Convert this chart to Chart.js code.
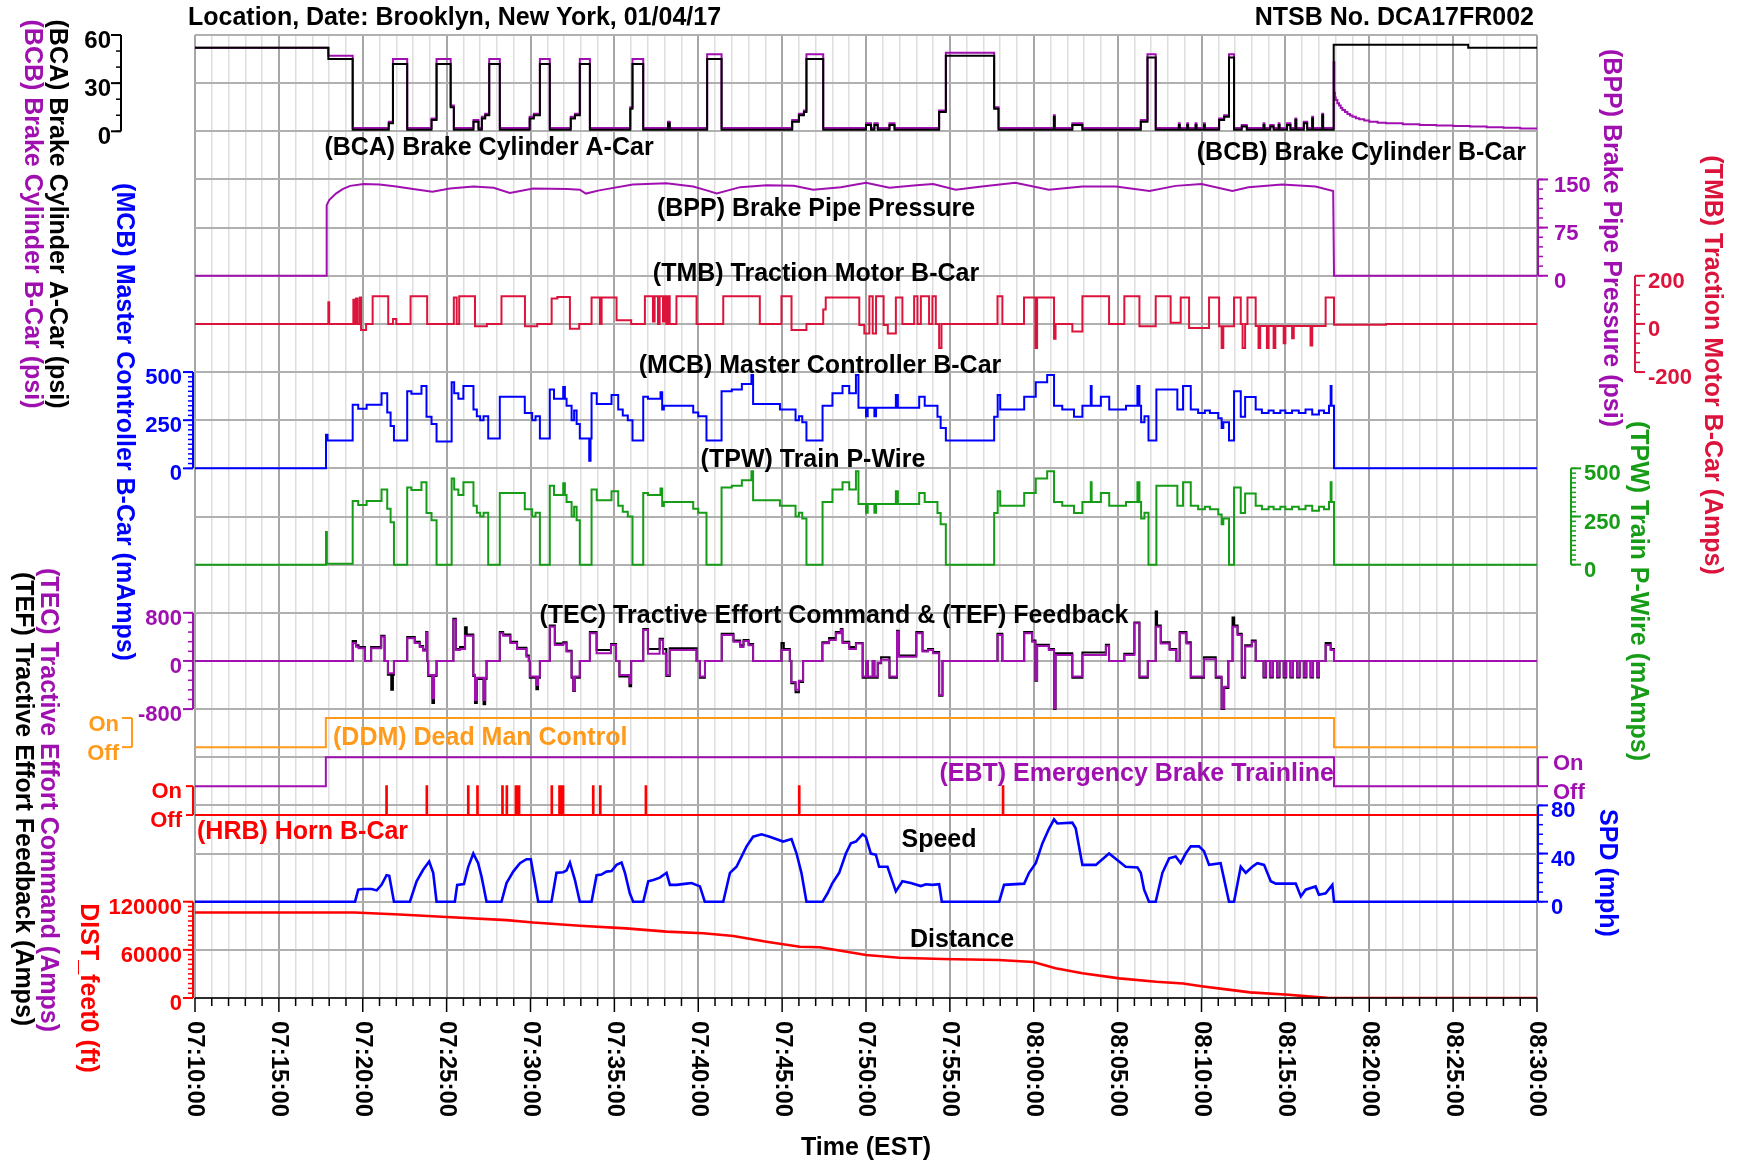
<!DOCTYPE html>
<html>
<head>
<meta charset="utf-8">
<title>NTSB DCA17FR002 event recorder</title>
<script src="https://cdn.jsdelivr.net/npm/chart.js@4.4.1/dist/chart.umd.min.js"></script>
<style>
  html, body { margin: 0; padding: 0; background: #fff; }
</style>
</head>
<body>
<canvas id="rec" width="1737" height="1162"></canvas>
<script>
// time is in minutes after 07:10:00 EST
const timeTicks = [0, 5, 10, 15, 20, 25, 30, 35, 40, 45, 50, 55, 60, 65, 70, 75, 80];
const timeLabels = ['07:10:00', '07:15:00', '07:20:00', '07:25:00', '07:30:00', '07:35:00', '07:40:00', '07:45:00',
  '07:50:00', '07:55:00', '08:00:00', '08:05:00', '08:10:00', '08:15:00', '08:20:00', '08:25:00', '08:30:00'];

// axis tick values
const bcTicks = [0, 30, 60];
const bppTicks = [0, 75, 150];
const tmbTicks = [-200, 0, 200];
const mcbTicks = [0, 250, 500];
const tpwTicks = [0, 250, 500];
const teTicks = [-800, 0, 800];
const onOffTicks = [0, 1];
const onOffLabels = ['Off', 'On'];
const spdTicks = [0, 40, 80];
const distTicks = [0, 60000, 120000];

// (BCA) brake cylinder A-car, psi
const bcaData = [
  [0, 52], [7.95, 45], [9.4, 1],
  [11.55, 5], [11.8, 42], [12.65, 1],
  [14.1, 7], [14.4, 42], [15.24, 15], [15.43, 1],
  [16.6, 6], [16.9, 1], [17.1, 8], [17.3, 10], [17.54, 42], [18.17, 1],
  [19.95, 8], [20.2, 10], [20.56, 42], [21.15, 1],
  [22.4, 8], [22.65, 10], [22.94, 42], [23.54, 1],
  [25.95, 14], [26.08, 42], [26.72, 1],
  [28.2, 5], [28.3, 1],
  [30.53, 45], [31.39, 1],
  [35.6, 6], [36.0, 10], [36.3, 12], [36.45, 45], [37.45, 1],
  [40.0, 4], [40.3, 1], [40.5, 4], [40.7, 1], [41.4, 4], [41.7, 1],
  [44.36, 12], [44.76, 47], [47.64, 14], [47.9, 1],
  [51.2, 9], [51.25, 1], [52.3, 4], [52.9, 1],
  [56.38, 6], [56.78, 46], [57.27, 1],
  [58.65, 4], [58.7, 1], [59.15, 4], [59.2, 1], [59.65, 4], [59.7, 1], [60.15, 4], [60.2, 1],
  [61.05, 7], [61.35, 9], [61.64, 46], [61.94, 1],
  [62.4, 3], [62.7, 1], [63.7, 4], [63.75, 1], [64.1, 3], [64.3, 1], [64.6, 4], [64.65, 1],
  [65.1, 4], [65.3, 1], [65.6, 7], [65.65, 1], [66.1, 5], [66.3, 1], [66.6, 8], [66.65, 1], [67.2, 10], [67.25, 1],
  [67.88, 54], [75.9, 52], [80, 52]
];

// (BCB) brake cylinder B-car, psi
const bcbData = [
  [0, 52], [7.95, 47], [9.4, 2],
  [11.55, 6], [11.8, 45], [12.65, 2],
  [14.1, 8], [14.4, 45], [15.24, 16], [15.43, 2],
  [16.6, 7], [16.9, 2], [17.1, 9], [17.3, 11], [17.54, 45], [18.17, 2],
  [19.95, 9], [20.2, 11], [20.56, 45], [21.15, 2],
  [22.4, 9], [22.65, 11], [22.94, 45], [23.54, 2],
  [25.95, 15], [26.08, 45], [26.72, 2],
  [28.2, 6], [28.3, 2],
  [30.53, 48], [31.39, 2],
  [35.6, 7], [36.0, 11], [36.3, 13], [36.45, 48], [37.45, 2],
  [40.0, 5], [40.3, 2], [40.5, 5], [40.7, 2], [41.4, 5], [41.7, 2],
  [44.36, 13], [44.76, 49], [47.64, 15], [47.9, 2],
  [51.2, 10], [51.25, 2], [52.3, 5], [52.9, 2],
  [56.38, 7], [56.78, 48], [57.27, 2],
  [58.65, 5], [58.7, 2], [59.15, 5], [59.2, 2], [59.65, 5], [59.7, 2], [60.15, 5], [60.2, 2],
  [61.05, 8], [61.35, 10], [61.64, 48], [61.94, 2],
  [62.4, 4], [62.7, 2], [63.7, 5], [63.75, 2], [64.1, 4], [64.3, 2], [64.6, 5], [64.65, 2],
  [65.1, 5], [65.3, 2], [65.6, 8], [65.65, 2], [66.1, 6], [66.3, 2], [66.6, 9], [66.65, 2], [67.2, 11], [67.25, 2],
  [67.88, 43], [67.92, 24], [67.96, 21], [68.0, 19.5], [68.1, 17.5], [68.2, 16], [68.3, 14.5], [68.4, 13.3],
  [68.55, 12], [68.7, 10.8], [68.85, 9.8], [69.0, 9], [69.2, 8.2], [69.4, 7.5], [69.7, 6.7], [70.0, 6],
  [70.5, 5.4], [71, 5], [72, 4.4], [73, 4], [74, 3.6], [75, 3.3], [76, 3], [77, 2.6], [78, 2.2], [79, 1.7], [80, 1.2]
];

// (BPP) brake pipe pressure, psi
const bppData = [
  [0, 0], [7.82, 0], [7.85, 110], [8.0, 118], [8.4, 128], [8.8, 135], [9.25, 140], [10.05, 143], [11.0, 142],
  [12.0, 139], [13.0, 135], [14.15, 131], [15.2, 136], [16.6, 139], [17.8, 137], [18.77, 129], [20.16, 136],
  [22.2, 135], [22.94, 134], [23.3, 128], [24.1, 133], [26.1, 142], [28.1, 144], [29.7, 139], [30.5, 133],
  [31.1, 128], [32.5, 138], [34.07, 141], [35.7, 140], [36.85, 134], [38.5, 138], [40.0, 145], [41.4, 137],
  [43.0, 141], [44.0, 143], [45.35, 134], [46.9, 139], [48.9, 145], [50.9, 134], [52.9, 139], [54.9, 139],
  [56.9, 132], [58.46, 140], [60.0, 143], [61.84, 132], [62.8, 138], [64.8, 142], [66.8, 139], [67.85, 132],
  [67.9, 0], [80, 0]
];

// (TMB) traction motor B-car, Amps
const tmbData = [
  [0, 0], [7.95, 90], [8.0, 0],
  [9.44, 100], [9.5, 0], [9.6, 105], [9.7, 0], [9.83, 110], [9.9, -25], [10.2, 0],
  [10.59, 115], [11.52, 0], [11.8, 20], [12.0, 0],
  [12.85, 115], [13.84, 0],
  [15.43, 110], [15.6, 0], [15.75, 115], [16.69, -10], [17.4, 0],
  [18.27, 115], [19.67, -10], [20.4, 0],
  [21.26, 105], [21.6, 112], [22.35, -20], [22.9, 0],
  [23.64, 110], [24.14, 0], [24.24, 110], [25.13, 15], [26.0, 0],
  [26.82, 115], [27.3, 10], [27.4, 115], [27.6, 0], [27.7, 115], [27.9, 10], [28.0, 115], [28.1, 0],
  [28.2, 115], [28.3, 0], [28.7, 115], [29.9, 0],
  [31.49, 115], [33.67, 0],
  [34.96, 115], [35.56, -25], [36.45, 0],
  [37.45, 60], [37.6, 110], [39.6, -5], [39.9, -40], [40.2, 115], [40.4, -40], [40.6, 115], [41.05, -5],
  [41.3, -40], [41.78, 110], [42.17, 0], [42.87, 115], [43.07, 0], [43.27, 115], [43.76, 0], [43.96, 115],
  [44.16, 0], [44.36, -100], [44.5, 0],
  [47.84, 115], [48.13, 0],
  [49.42, 110], [50.1, -100], [50.2, 110], [51.21, -62], [51.3, 0], [52.3, -32], [52.9, 115], [54.49, 0],
  [55.4, 115], [56.3, -10], [57.27, 115], [58.16, 5], [58.76, 110], [59.26, -17], [60.45, 110], [61.05, -10],
  [61.2, -100], [61.3, -10], [61.94, 110], [62.34, 0], [62.45, -100], [62.6, 0], [62.74, 110], [63.23, -9],
  [63.4, -100], [63.5, -9], [63.9, -100], [64.0, -9], [64.3, -100], [64.4, -9], [64.9, -80], [65.0, -9],
  [65.4, -60], [65.5, -9], [66.5, -90], [66.6, -9], [67.4, 110], [67.9, -4], [71.0, 0], [80, 0]
];

// (MCB) master controller B-car, mAmps
const mcbData = [
  [0, 0], [7.81, 175], [7.9, 145], [9.4, 330], [9.73, 310], [10.23, 330], [11.12, 390], [11.46, 290], [11.66, 220], [11.86, 145],
  [12.65, 400], [12.9, 387], [13.5, 428], [13.8, 268], [14.1, 230], [14.4, 140],
  [15.3, 447], [15.45, 390], [15.7, 362], [16.0, 428], [16.6, 306], [16.8, 270], [17.0, 250], [17.2, 270], [17.48, 155],
  [18.17, 372], [19.66, 287], [20.1, 250], [20.3, 270], [20.56, 155],
  [21.15, 410], [21.4, 362], [21.95, 423], [22.05, 362], [22.15, 325], [22.45, 250], [22.6, 300], [22.75, 230], [22.94, 155],
  [23.5, 40], [23.58, 155], [23.64, 390], [23.95, 334], [24.83, 381], [25.23, 306], [25.5, 275], [25.8, 250], [26.08, 145],
  [26.72, 372], [27.0, 362], [27.75, 395], [27.85, 305], [27.95, 325], [29.7, 290], [30.0, 270], [30.49, 145],
  [31.39, 400], [32.0, 410], [32.6, 438], [33.17, 485], [33.27, 334], [34.87, 306], [35.8, 250], [36.0, 270], [36.2, 240], [36.45, 145],
  [37.41, 325], [38.0, 390], [38.6, 428], [39.0, 390], [39.4, 485], [39.55, 315], [40.0, 270], [40.1, 315], [40.5, 270], [40.6, 315],
  [41.78, 381], [41.9, 315], [43.17, 372], [43.5, 325], [44.26, 268], [44.45, 210], [44.76, 145],
  [47.64, 268], [47.85, 381], [48.0, 306], [49.43, 372], [50.12, 447], [50.8, 485], [51.21, 325], [51.7, 306], [52.4, 268],
  [52.9, 325], [53.4, 428], [53.45, 325], [54.0, 372], [54.5, 306], [55.5, 325], [56.18, 428], [56.3, 325], [56.4, 240], [56.6, 270], [56.84, 145],
  [57.31, 410], [58.56, 306], [58.9, 428], [59.36, 306], [59.8, 287], [60.2, 300], [60.5, 287], [61.0, 260], [61.2, 210], [61.3, 240], [61.64, 145],
  [61.94, 400], [62.34, 268], [62.6, 370], [63.23, 306], [63.6, 287], [64.0, 300], [64.3, 287], [64.7, 300], [65.0, 287], [65.4, 300],
  [65.8, 287], [66.2, 306], [66.6, 280], [67.0, 300], [67.3, 287], [67.6, 325], [67.7, 428], [67.75, 325], [67.9, 0], [80, 0]
];

// (TPW) train P-wire, mAmps
const tpwData = [
  [0, 0], [7.81, 170], [7.86, 5], [9.4, 330], [9.73, 310], [10.23, 330], [11.12, 390], [11.46, 290], [11.66, 220], [11.86, 0],
  [12.65, 400], [12.9, 387], [13.5, 428], [13.8, 268], [14.1, 230], [14.4, 0],
  [15.3, 447], [15.45, 390], [15.7, 362], [16.0, 428], [16.6, 306], [16.8, 270], [17.0, 250], [17.2, 270], [17.48, 0],
  [18.17, 372], [19.66, 287], [20.1, 250], [20.3, 270], [20.56, 0],
  [21.15, 410], [21.4, 362], [21.95, 423], [22.05, 362], [22.15, 325], [22.45, 250], [22.6, 300], [22.75, 230], [22.94, 0],
  [23.64, 390], [23.95, 334], [24.83, 381], [25.23, 306], [25.5, 275], [25.8, 250], [26.08, 0],
  [26.72, 372], [27.0, 362], [27.75, 395], [27.85, 305], [27.95, 325], [29.7, 290], [30.0, 270], [30.49, 0],
  [31.39, 400], [32.0, 410], [32.6, 438], [33.17, 485], [33.27, 334], [34.87, 306], [35.8, 250], [36.0, 270], [36.2, 240], [36.45, 0],
  [37.41, 325], [38.0, 390], [38.6, 428], [39.0, 390], [39.4, 485], [39.55, 315], [40.0, 270], [40.1, 315], [40.5, 270], [40.6, 315],
  [41.78, 381], [41.9, 315], [43.17, 372], [43.5, 325], [44.26, 268], [44.45, 210], [44.76, 0],
  [47.64, 268], [47.85, 381], [48.0, 306], [49.43, 372], [50.12, 447], [50.8, 485], [51.21, 325], [51.7, 306], [52.4, 268],
  [52.9, 325], [53.4, 428], [53.45, 325], [54.0, 372], [54.5, 306], [55.5, 325], [56.18, 428], [56.3, 325], [56.4, 240], [56.6, 270], [56.84, 0],
  [57.31, 410], [58.56, 306], [58.9, 428], [59.36, 306], [59.8, 287], [60.2, 300], [60.5, 287], [61.0, 260], [61.2, 210], [61.3, 240], [61.64, 0],
  [61.94, 400], [62.34, 268], [62.6, 370], [63.23, 306], [63.6, 287], [64.0, 300], [64.3, 287], [64.7, 300], [65.0, 287], [65.4, 300],
  [65.8, 287], [66.2, 306], [66.6, 280], [67.0, 300], [67.3, 287], [67.6, 325], [67.7, 428], [67.75, 325], [67.9, 0], [80, 0]
];

// (TEC) tractive effort command, Amps
const tecData = [
  [0, 0], [9.4, 294], [9.6, 238], [9.75, 210], [10.13, 0], [10.5, 210], [11.1, 404], [11.3, 0], [11.5, -205], [11.86, 0],
  [12.65, 377], [13.1, 300], [13.4, 230], [13.6, 170], [13.77, 471], [13.85, 0], [13.9, -233], [14.15, -620], [14.25, -233], [14.4, 0],
  [15.4, 681], [15.55, 180], [15.8, 200], [16.1, 420], [16.59, -230], [16.69, -650], [16.8, -280], [17.2, -650], [17.3, -280], [17.38, 0],
  [18.17, 460], [18.37, 420], [18.8, 300], [19.2, 200], [19.76, 70], [19.9, 0], [19.96, -260], [20.35, -400], [20.45, -260], [20.56, 0],
  [21.15, 570], [21.45, 265], [21.95, 290], [22.15, 155], [22.45, -260], [22.55, -490], [22.65, -260], [22.94, 0],
  [23.54, 460], [23.94, 127], [24.8, 265], [25.1, 0], [25.3, -233], [25.9, -370], [26.0, 0],
  [26.72, 515], [27.0, 120], [27.7, 350], [27.9, 120], [28.1, -233], [28.3, 180], [29.9, 0], [30.1, -260], [30.4, 0],
  [31.4, 430], [32.1, 320], [32.5, 230], [32.7, 330], [33.0, 260], [33.27, 0],
  [34.96, 183], [35.46, 0], [35.55, -350], [35.8, -480], [36.0, -330], [36.25, 0],
  [37.4, 294], [37.8, 350], [38.2, 460], [38.5, 515], [38.6, 300], [39.0, 200], [39.4, 290], [39.8, -260], [40.0, 0], [40.1, -260],
  [40.4, 0], [40.5, -260], [40.7, -30], [40.9, 20], [41.4, -260], [41.85, 487], [41.95, 70], [43.0, 460], [43.37, 155], [43.7, 180],
  [44.0, 127], [44.36, -565], [44.56, 0],
  [47.84, 430], [48.13, 0], [49.43, 460], [49.9, 320], [50.1, -315], [50.2, 250], [50.9, 180], [51.21, -787], [51.3, 100],
  [52.3, -260], [52.9, 100], [54.3, 250], [54.49, 0],
  [55.4, 100], [56.0, 626], [56.3, -260], [56.8, 0], [57.27, 570], [57.57, 290], [58.1, 180], [58.5, 0], [58.7, 460], [59.1, 290],
  [59.36, -260], [60.15, 30], [60.85, -260], [61.2, -787], [61.35, -430], [61.6, 0],
  [61.85, 570], [62.15, 430], [62.4, -260], [62.6, 240], [63.0, 320], [63.23, 0],
  [63.7, -260], [63.85, 0], [64.1, -260], [64.25, 0], [64.5, -260], [64.65, 0], [64.9, -260], [65.05, 0],
  [65.3, -260], [65.45, 0], [65.7, -260], [65.85, 0], [66.1, -260], [66.25, 0], [66.5, -260], [66.65, 0],
  [66.9, -260], [67.0, 0], [67.4, 265], [67.7, 180], [67.9, 0], [80, 0]
];

// (TEF) tractive effort feedback, Amps
const tefData = [
  [0, 0], [9.4, 330], [9.6, 260], [9.75, 230], [10.13, 0], [10.5, 230], [11.1, 420], [11.3, 0], [11.5, -230], [11.7, -480], [11.8, -230], [11.86, 0],
  [12.65, 400], [13.1, 320], [13.4, 250], [13.6, 190], [13.77, 480], [13.85, 0], [13.9, -250], [14.15, -700], [14.25, -250], [14.4, 0],
  [15.4, 700], [15.55, 200], [15.8, 230], [16.1, 560], [16.2, 440], [16.59, -250], [16.69, -700], [16.8, -300], [17.2, -720], [17.3, -300], [17.38, 0],
  [18.17, 480], [18.37, 440], [18.8, 320], [19.2, 220], [19.76, 90], [19.9, 0], [19.96, -280], [20.35, -470], [20.45, -280], [20.56, 0],
  [21.15, 590], [21.45, 290], [21.95, 310], [22.15, 170], [22.45, -280], [22.55, -500], [22.65, -280], [22.94, 0],
  [23.54, 480], [23.94, 180], [24.8, 280], [25.1, 0], [25.3, -260], [25.9, -420], [26.0, 0],
  [26.72, 530], [27.0, 200], [27.7, 370], [27.9, 200], [28.1, -250], [28.3, 210], [29.9, 0], [30.1, -280], [30.4, 0],
  [31.4, 450], [32.1, 340], [32.5, 260], [32.7, 350], [33.0, 280], [33.27, 0],
  [34.96, 300], [35.1, 200], [35.46, 0], [35.55, -370], [35.8, -520], [36.0, -350], [36.25, 0],
  [37.4, 310], [37.8, 380], [38.2, 480], [38.5, 530], [38.6, 320], [39.0, 230], [39.4, 300], [39.8, -280], [40.0, 0], [40.1, -280],
  [40.4, 0], [40.5, -280], [40.7, -40], [40.9, 60], [41.4, -280], [41.85, 500], [41.95, 90], [43.0, 480], [43.37, 170], [43.7, 200],
  [44.0, 150], [44.36, -580], [44.56, 0],
  [47.84, 450], [48.13, 0], [49.43, 480], [49.9, 340], [50.1, -330], [50.2, 270], [50.9, 200], [51.21, -800], [51.3, 130],
  [52.3, -280], [52.9, 140], [54.3, 270], [54.49, 0],
  [55.4, 120], [56.0, 640], [56.3, -280], [56.8, 0], [57.27, 820], [57.35, 590], [57.57, 310], [58.1, 200], [58.5, 0], [58.7, 480], [59.1, 310],
  [59.36, -280], [60.15, 60], [60.85, -280], [61.2, -800], [61.35, -450], [61.6, 0],
  [61.85, 720], [61.95, 590], [62.15, 450], [62.4, -280], [62.6, 260], [63.0, 340], [63.23, 0],
  [63.7, -275], [63.85, 0], [64.1, -275], [64.25, 0], [64.5, -275], [64.65, 0], [64.9, -275], [65.05, 0],
  [65.3, -275], [65.45, 0], [65.7, -275], [65.85, 0], [66.1, -275], [66.25, 0], [66.5, -275], [66.65, 0],
  [66.9, -275], [67.0, 0], [67.4, 300], [67.7, 200], [67.9, 0], [80, 0]
];

// discrete channels, 1 = On, 0 = Off
const ddmData = [[0, 0], [7.8, 1], [67.9, 0], [80, 0]];
const ebtData = [[0, 0], [7.8, 1], [67.9, 0], [80, 0]];
const hrbData = [
  [0, 0], [11.4, 1], [11.44, 0], [13.8, 1], [13.84, 0], [16.27, 1], [16.31, 0], [16.82, 1], [16.86, 0],
  [18.31, 1], [18.35, 0], [18.57, 1], [18.61, 0], [19.11, 1], [19.15, 0], [19.2, 1], [19.24, 0], [19.3, 1], [19.34, 0],
  [21.25, 1], [21.29, 0], [21.71, 1], [21.75, 0], [21.8, 1], [21.84, 0], [21.92, 1], [21.96, 0],
  [23.72, 1], [23.76, 0], [24.14, 1], [24.18, 0], [26.86, 1], [26.9, 0], [36.0, 1], [36.04, 0],
  [48.15, 1], [48.19, 0], [80, 0]
];

// speed, mph
const spdData = [
  [0, 0], [9.54, 0], [9.73, 10], [10.0, 10.5], [10.53, 10.5], [10.83, 9.4], [11.12, 14], [11.42, 22], [11.58, 21.5], [11.86, 0],
  [12.81, 0], [13.21, 17], [13.6, 26.5], [13.96, 33.4], [14.2, 24], [14.4, 0],
  [15.49, 0], [15.63, 14], [16.03, 14.6], [16.29, 29], [16.59, 40], [16.88, 32], [17.08, 21], [17.38, 0],
  [18.27, 0], [18.57, 15.5], [18.97, 25], [19.37, 32], [19.76, 35.3], [20.02, 35.3], [20.16, 24], [20.46, 0],
  [21.25, 0], [21.55, 24], [21.95, 24.5], [22.15, 26], [22.35, 32.5], [22.65, 18], [22.94, 0],
  [23.64, 0], [23.94, 22], [24.23, 22.5], [24.53, 25], [24.83, 25.5], [25.13, 30.6], [25.43, 32.5], [25.63, 24], [25.92, 7], [26.12, 0],
  [26.72, 0], [27.02, 17], [27.32, 18], [27.71, 20], [28.11, 24], [28.31, 14], [28.7, 14], [29.3, 15], [29.6, 15.5], [30.1, 12.7], [30.39, 0],
  [31.49, 0], [31.89, 24], [32.28, 29], [32.88, 46], [33.27, 54], [33.77, 56], [34.26, 54], [35.06, 50], [35.56, 52], [35.86, 40], [36.15, 24], [36.45, 0],
  [37.41, 0], [37.71, 7], [38.0, 15.5], [38.4, 24], [38.8, 40], [39.1, 48.6], [39.4, 50], [39.79, 56], [39.99, 54], [40.29, 40],
  [40.59, 39], [40.78, 29], [41.28, 29], [41.78, 8.6], [42.17, 17], [42.67, 15.5], [43.27, 13], [43.57, 14.5], [43.96, 14], [44.36, 14.5], [44.52, 0],
  [47.94, 0], [48.23, 14], [49.43, 15], [49.72, 24], [50.12, 32], [50.52, 48.6], [50.92, 61], [51.21, 68.4], [51.41, 65], [52.3, 65.7],
  [52.5, 61], [52.9, 30.6], [53.7, 30.6], [54.49, 40], [55.48, 29], [56.18, 28.5], [56.38, 24], [56.58, 10], [56.87, 0], [57.27, 0],
  [57.67, 24], [58.07, 36], [58.46, 37.5], [58.76, 32], [59.06, 40], [59.36, 46], [59.85, 46], [60.15, 42], [60.45, 30.6], [61.14, 32], [61.64, 0], [61.94, 0],
  [62.34, 29], [62.64, 24], [63.03, 29], [63.33, 32], [63.73, 30.6], [64.13, 17], [64.43, 15], [65.62, 15], [65.92, 4.4], [66.21, 10],
  [66.8, 12.7], [67.0, 5.8], [67.4, 7], [67.8, 14], [67.9, 0], [80, 0]
];

// DIST_feet0, ft
const distData = [
  [0, 106500], [9.5, 106500], [12.2, 104000], [15.0, 101000], [18.57, 97000], [20.16, 94000], [22.94, 90100], [25.7, 86800],
  [28.1, 82700], [30.3, 80600], [32.1, 77300], [34.07, 70200], [36.05, 63900], [37.25, 63200], [40.0, 53600], [42.0, 50200],
  [44.56, 48600], [47.9, 47400], [49.97, 44800], [51.3, 37000], [52.9, 30800], [55.1, 24500], [57.3, 20300], [58.9, 18000],
  [60.0, 14600], [61.6, 10400], [62.9, 7000], [65.2, 4000], [66.5, 1700], [67.5, 300], [68.0, 0], [80, 0]
];

const PURPLE = '#a010b0';
const CRIMSON = '#dc143c';
const GREEN = '#169c16';
const ORANGE = '#ff9a1a';
const BLUE = '#0000ff';
const RED = '#ff0000';
const FONT = '"Liberation Sans", Arial, sans-serif';
const ROWS = 20;

// each trace lives in its own band of the 20 grid rows
function bandScale(vTop, rTop, vBot, rBot) {
  const per = (vTop - vBot) / (rBot - rTop);
  const max = vTop + rTop * per;
  return { type: 'linear', display: false, min: max - ROWS * per, max: max };
}

function trace(label, data, yAxisID, color, stepped, width) {
  return { label, data, yAxisID, xAxisID: 'x', borderColor: color, backgroundColor: color,
    borderWidth: width || 2, pointRadius: 0, fill: false, stepped: stepped, tension: 0 };
}

function vText(ctx, text, x, yc, color, size) {
  ctx.save();
  ctx.translate(x, yc);
  ctx.rotate(Math.PI / 2);
  ctx.font = 'bold ' + size + 'px ' + FONT;
  ctx.fillStyle = color;
  ctx.textAlign = 'center';
  ctx.textBaseline = 'middle';
  ctx.fillText(text, 0, 0);
  ctx.restore();
}

function hText(ctx, text, x, y, color, align) {
  ctx.fillStyle = color;
  ctx.textAlign = align || 'center';
  ctx.textBaseline = 'middle';
  ctx.fillText(text, x, y);
}

// side: -1 ticks to the left, +1 ticks to the right
function drawAxis(ctx, scale, o) {
  const lo = Math.min(...o.ticks), hi = Math.max(...o.ticks);
  ctx.strokeStyle = o.color;
  ctx.lineWidth = 2;
  ctx.beginPath();
  ctx.moveTo(o.x, scale.getPixelForValue(lo));
  ctx.lineTo(o.x, scale.getPixelForValue(hi));
  ctx.stroke();
  if (o.minor) {
    ctx.lineWidth = 1.5;
    for (let v = lo; v <= hi + 1e-9; v += o.minor) {
      const y = scale.getPixelForValue(v);
      ctx.beginPath(); ctx.moveTo(o.x, y); ctx.lineTo(o.x + o.side * 5, y); ctx.stroke();
    }
  }
  ctx.lineWidth = 2;
  ctx.font = 'bold ' + (o.size || 22) + 'px ' + FONT;
  o.ticks.forEach((v, i) => {
    const y = scale.getPixelForValue(v);
    ctx.beginPath(); ctx.moveTo(o.x, y); ctx.lineTo(o.x + o.side * (o.len || 10), y); ctx.stroke();
    const lab = o.labels ? o.labels[i] : String(v);
    hText(ctx, lab, o.x + o.side * o.gap, y + (o.dy === undefined ? 6 : o.dy), o.color, o.side < 0 ? 'right' : 'left');
  });
}

const decor = {
  id: 'decor',
  afterDraw(chart) {
    const ctx = chart.ctx, a = chart.chartArea, s = chart.scales;
    ctx.save();

    // time axis
    ctx.strokeStyle = '#000';
    ctx.lineWidth = 1.5;
    ctx.beginPath(); ctx.moveTo(a.left, a.bottom); ctx.lineTo(a.right, a.bottom); ctx.stroke();
    for (let m = s.x.min; m <= s.x.max; m++) {
      const x = s.x.getPixelForValue(m);
      ctx.beginPath(); ctx.moveTo(x, a.bottom); ctx.lineTo(x, a.bottom + (m % 5 === 0 ? 14 : 8)); ctx.stroke();
    }
    ctx.font = 'bold 24px ' + FONT;
    timeTicks.forEach((t, i) => {
      ctx.save();
      ctx.translate(s.x.getPixelForValue(t), a.bottom + 23);
      ctx.rotate(Math.PI / 2);
      ctx.fillStyle = '#000';
      ctx.textAlign = 'left';
      ctx.textBaseline = 'middle';
      ctx.fillText(timeLabels[i], 0, 0);
      ctx.restore();
    });

    // left axes
    drawAxis(ctx, s.yBC, { x: 121, side: -1, ticks: bcTicks, minor: 10, color: '#000', gap: 10, size: 24 });
    drawAxis(ctx, s.yMCB, { x: 193, side: -1, ticks: mcbTicks, minor: 25, color: BLUE, gap: 11 });
    drawAxis(ctx, s.yTE, { x: 193, side: -1, ticks: teTicks, minor: 160, color: PURPLE, gap: 11 });
    drawAxis(ctx, s.yDDM, { x: 132, side: -1, ticks: onOffTicks, labels: onOffLabels, color: ORANGE, gap: 13, dy: 7 });
    drawAxis(ctx, s.yHRB, { x: 193, side: -1, ticks: onOffTicks, labels: onOffLabels, color: RED, gap: 11, len: 7, dy: 6 });
    drawAxis(ctx, s.yDIST, { x: 193, side: -1, ticks: distTicks, minor: 6000, color: RED, gap: 11 });

    // right axes
    drawAxis(ctx, s.yBPP, { x: 1538, side: 1, ticks: bppTicks, minor: 15, color: PURPLE, gap: 16 });
    drawAxis(ctx, s.yTMB, { x: 1635, side: 1, ticks: tmbTicks, minor: 40, color: CRIMSON, gap: 13 });
    drawAxis(ctx, s.yTPW, { x: 1571, side: 1, ticks: tpwTicks, minor: 25, color: GREEN, gap: 13 });
    drawAxis(ctx, s.yEBT, { x: 1538, side: 1, ticks: onOffTicks, labels: onOffLabels, color: PURPLE, gap: 15, dy: 7 });
    drawAxis(ctx, s.ySPD, { x: 1538, side: 1, ticks: spdTicks, minor: 8, color: BLUE, gap: 13 });

    // axis titles
    vText(ctx, '(BCA) Brake Cylinder A-Car (psi)', 57, 214, '#000', 25);
    vText(ctx, '(BCB) Brake Cylinder B-Car (psi)', 32, 214, PURPLE, 25);
    vText(ctx, '(MCB) Master Controller B-Car (mAmps)', 124, 422, BLUE, 25);
    vText(ctx, '(TEC) Tractive Effort Command (Amps)', 48, 800, PURPLE, 25);
    vText(ctx, '(TEF) Tractive Effort Feedback (Amps)', 23, 799, '#000', 25);
    vText(ctx, 'DIST_feet0 (ft)', 88, 988, RED, 25);
    vText(ctx, '(BPP) Brake Pipe Pressure (psi)', 1611, 238, PURPLE, 25);
    vText(ctx, '(TMB) Traction Motor B-Car (Amps)', 1712, 365, CRIMSON, 25);
    vText(ctx, '(TPW) Train P-Wire (mAmps)', 1638, 591, GREEN, 25);
    vText(ctx, 'SPD (mph)', 1607, 873, BLUE, 25);

    // trace names inside the plot
    ctx.font = 'bold 25px ' + FONT;
    hText(ctx, '(BCA) Brake Cylinder A-Car', 489, 148, '#000');
    hText(ctx, '(BCB) Brake Cylinder B-Car', 1526, 153, '#000', 'right');
    hText(ctx, '(BPP) Brake Pipe Pressure', 816, 209, '#000');
    hText(ctx, '(TMB) Traction Motor B-Car', 816, 274, '#000');
    hText(ctx, '(MCB) Master Controller B-Car', 820, 366, '#000');
    hText(ctx, '(TPW) Train P-Wire', 813, 460, '#000');
    hText(ctx, '(TEC) Tractive Effort Command & (TEF) Feedback', 834, 616, '#000');
    hText(ctx, '(DDM) Dead Man Control', 333, 738, ORANGE, 'left');
    hText(ctx, '(EBT) Emergency Brake Trainline', 1334, 774, PURPLE, 'right');
    hText(ctx, '(HRB) Horn B-Car', 197, 832, RED, 'left');
    hText(ctx, 'Speed', 939, 840, '#000');
    hText(ctx, 'Distance', 962, 940, '#000');

    // header and x title
    ctx.font = 'bold 25px ' + FONT;
    hText(ctx, 'Location, Date: Brooklyn, New York, 01/04/17', 188, 18, '#000', 'left');
    hText(ctx, 'NTSB No. DCA17FR002', 1534, 18, '#000', 'right');
    hText(ctx, 'Time (EST)', 866, 1148, '#000');
    ctx.restore();
  }
};

new Chart(document.getElementById('rec'), {
  type: 'line',
  data: {
    datasets: [
      trace('BCA', bcaData, 'yBC', '#000', true),
      trace('BCB', bcbData, 'yBC', PURPLE, true),
      trace('BPP', bppData, 'yBPP', PURPLE, false),
      trace('TMB', tmbData, 'yTMB', CRIMSON, true),
      trace('MCB', mcbData, 'yMCB', BLUE, true),
      trace('TPW', tpwData, 'yTPW', GREEN, true),
      trace('TEC', tecData, 'yTE', PURPLE, true),
      trace('TEF', tefData, 'yTE', '#000', true),
      trace('DDM', ddmData, 'yDDM', ORANGE, true),
      trace('EBT', ebtData, 'yEBT', PURPLE, true),
      trace('HRB', hrbData, 'yHRB', RED, true),
      trace('SPD', spdData, 'ySPD', BLUE, false, 2.6),
      trace('DIST', distData, 'yDIST', RED, false, 2.6)
    ]
  },
  options: {
    responsive: false,
    animation: false,
    events: [],
    layout: { padding: { left: 195, right: 200, top: 35, bottom: 164 } },
    plugins: { legend: { display: false }, tooltip: { enabled: false } },
    scales: {
      x: {
        type: 'linear', min: 0, max: 80,
        ticks: { display: false, stepSize: 1, autoSkip: false, maxTicksLimit: 200 },
        grid: {
          drawTicks: false,
          color: c => (c.tick && c.tick.value % 5 === 0) ? '#a6a6a6' : '#dedede',
          lineWidth: c => (c.tick && c.tick.value % 5 === 0) ? 2 : 1.5
        },
        border: { display: false }
      },
      rows: {
        type: 'linear', position: 'left', min: 0, max: ROWS, reverse: true,
        ticks: { display: false, stepSize: 1, maxTicksLimit: 100 },
        grid: { drawTicks: false, color: '#b0b0b0', lineWidth: 2 },
        border: { display: false }
      },
      yBC: bandScale(60, 0, 0, 2),
      yBPP: bandScale(150, 3, 0, 5),
      yTMB: bandScale(200, 5, -200, 7),
      yMCB: bandScale(500, 7, 0, 9),
      yTPW: bandScale(500, 9, 0, 11),
      yTE: bandScale(800, 12, -800, 14),
      yDDM: bandScale(1, 14.185, 0, 14.79),
      yEBT: bandScale(1, 15.0, 0, 15.6),
      yHRB: bandScale(1, 15.6, 0, 16.2),
      ySPD: bandScale(80, 16, 0, 18),
      yDIST: bandScale(120000, 18, 0, 20)
    }
  },
  plugins: [decor]
});
</script>
</body>
</html>
